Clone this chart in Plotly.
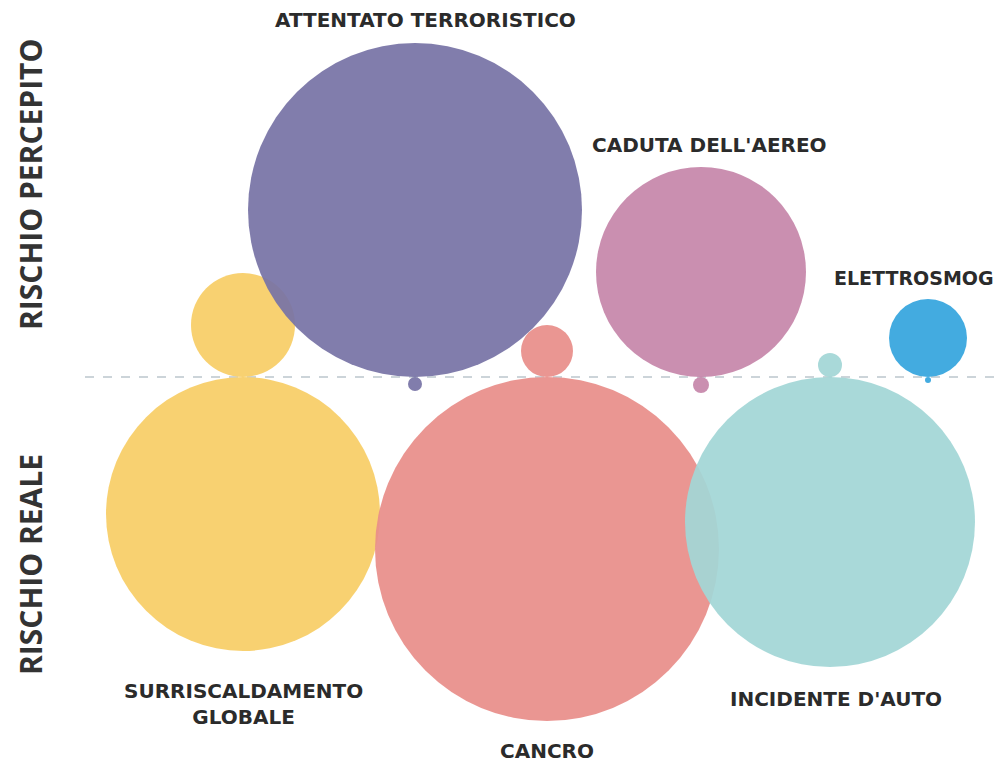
import plotly.graph_objects as go

# ---- data ----
categories = ["SURRISCALDAMENTO<br>GLOBALE", "ATTENTATO TERRORISTICO", "CANCRO",
              "CADUTA DELL'AEREO", "INCIDENTE D'AUTO", "ELETTROSMOG"]
x_pos = [243, 415, 547, 701, 830, 928]
perceived = [52, 167, 26, 105, 12, 39]     # bubble radius, perceived risk
real = [137, 7, 172, 8, 145, 3]            # bubble radius, real risk
colors = ["#f8cd66", "#7773a6", "#e88e8a", "#c686aa", "#a2d6d6", "#35a5de"]
label_x = [243, 425, 547, 709, 836, 914]
label_y = [-327, 357, -374, 232, -322, 99]

fig = go.Figure()

# real risk (below line) drawn first
order_real = [0, 2, 4, 1, 3, 5]
for i in order_real:
    fig.add_trace(go.Scatter(
        x=[x_pos[i]], y=[-real[i]], mode="markers",
        marker=dict(size=[2 * real[i]], sizemode="diameter", sizeref=1,
                    color=colors[i], opacity=0.93, line=dict(width=0)),
        hoverinfo="text", text=[categories[i].replace("<br>", " ")], showlegend=False))

for i in range(len(categories)):
    fig.add_trace(go.Scatter(
        x=[x_pos[i]], y=[perceived[i]], mode="markers",
        marker=dict(size=[2 * perceived[i]], sizemode="diameter", sizeref=1,
                    color=colors[i], opacity=0.93, line=dict(width=0)),
        hoverinfo="text", text=[categories[i].replace("<br>", " ")], showlegend=False))

fig.add_shape(type="line", x0=85, x1=995, y0=0, y1=0,
              line=dict(color="#bcc6cd", width=1.5, dash="dash"), layer="below")

label_size = [20, 20, 20, 20, 20, 19]
for i, name in enumerate(categories):
    fig.add_annotation(x=label_x[i], y=label_y[i], text="<b>" + name + "</b>",
                       showarrow=False,
                       font=dict(family="DejaVu Sans", size=label_size[i], color="#2b2b2b"),
                       xanchor="center", yanchor="middle")

fig.add_annotation(x=30, y=192, text="<b>RISCHIO PERCEPITO</b>", textangle=-90, showarrow=False,
                   font=dict(family="Open Sans", size=30, color="#333333"))
fig.add_annotation(x=30, y=-188, text="<b>RISCHIO REALE</b>", textangle=-90, showarrow=False,
                   font=dict(family="Open Sans", size=30, color="#333333"))

# page has an 8px body margin: figure is sized and ranged so 1 unit = 1 screen pixel
fig.update_layout(
    width=998, height=756, margin=dict(l=0, r=0, t=0, b=0),
    paper_bgcolor="white", plot_bgcolor="white",
    xaxis=dict(range=[8, 1006], visible=False, fixedrange=True),
    yaxis=dict(range=[-387, 369], visible=False, fixedrange=True),
)

fig.write_html("out.html")
